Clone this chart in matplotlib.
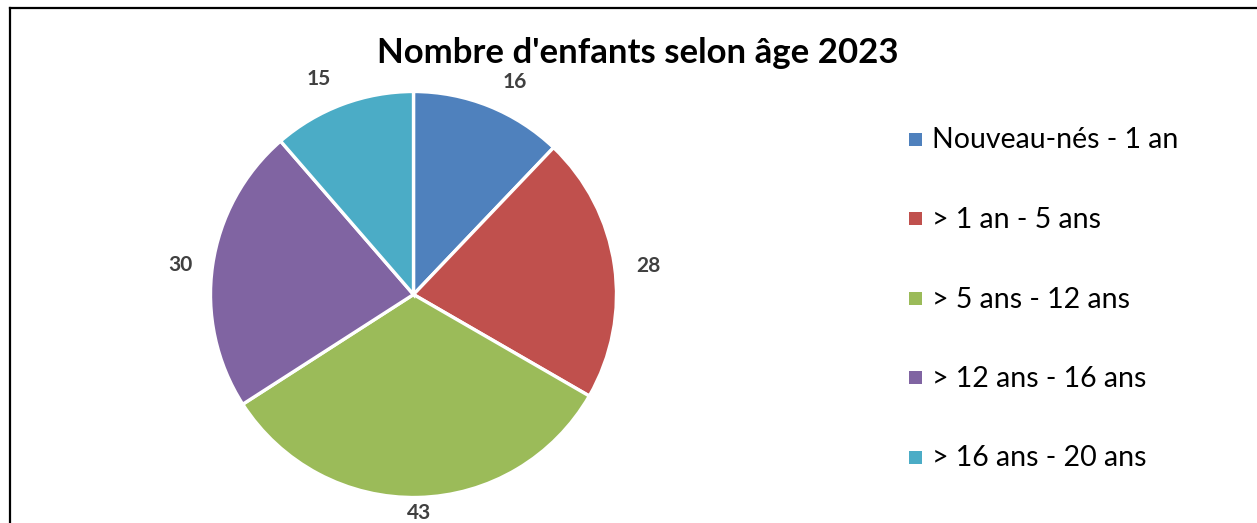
import numpy as np
import matplotlib
matplotlib.use('Agg')
import matplotlib.pyplot as plt
from matplotlib.lines import Line2D
from matplotlib.patches import Rectangle

# data
categories = ['Nouveau-nés - 1 an', '> 1 an - 5 ans', '> 5 ans - 12 ans',
              '> 12 ans - 16 ans', '> 16 ans - 20 ans']
counts = [16, 28, 43, 30, 15]
colors = ['#4F81BD', '#C0504D', '#9BBB59', '#8064A2', '#4BACC6']
title = "Nombre d'enfants selon âge 2023"

# label placement (Excel "outside end" look)
label_dist = [1.167, 1.165, 1.067, 1.16, 1.17]
label_nudge = [3.4, 0.8, 0, -0.6, -3.2]   # degrees, clockwise

plt.rcParams['font.family'] = ['Lato', 'DejaVu Sans']

W, H = 1257, 523
fig = plt.figure(figsize=(W / 100, H / 100), dpi=100)

# pie axes placed in pixels: centre (413.5, 294.5), radius 203
cx, cy, r = 413.5, 294.5, 203
ax = fig.add_axes([(cx - r) / W, (H - cy - r) / H, 2 * r / W, 2 * r / H])
wedges, _ = ax.pie(counts, colors=colors, startangle=90, counterclock=False,
                   wedgeprops=dict(edgecolor='white', linewidth=2.4))
ax.set_xlim(-1, 1)
ax.set_ylim(-1, 1)
ax.set_aspect('equal')

total = sum(counts)
start = 0.0
for val, d, nudge in zip(counts, label_dist, label_nudge):
    mid = (start + val / 2) / total * 360 + nudge
    start += val
    a = np.deg2rad(mid)
    ax.annotate(str(val), xy=(d * np.sin(a), d * np.cos(a)), xytext=(0, -8),
                textcoords='offset pixels', ha='center', va='baseline',
                fontsize=15, fontweight='bold', color='#404040',
                annotation_clip=False)

fig.text(638 / W, 1 - 63 / H, title, ha='center', va='baseline',
         fontsize=25, fontweight='bold', color='black')

# legend drawn by hand to match spacing
row_y = [139, 218, 298, 377.5, 457]
for name, col, y in zip(categories, colors, row_y):
    fig.patches.append(Rectangle((909 / W, 1 - (y + 6.5) / H), 13 / W, 13 / H,
                                 transform=fig.transFigure, facecolor=col,
                                 edgecolor='none'))
    fig.text(932 / W, 1 - (y + 9.5) / H, name, ha='left', va='baseline',
             fontsize=20.5, color='black')

# chart frame (top and left visible)
fig.add_artist(Line2D([10 / W, 1], [1 - 8 / H, 1 - 8 / H], color='black', lw=1.6,
                      transform=fig.transFigure))
fig.add_artist(Line2D([10 / W, 10 / W], [0, 1 - 8 / H], color='black', lw=1.6,
                      transform=fig.transFigure))

fig.savefig('out.png', dpi=100, facecolor='white')
